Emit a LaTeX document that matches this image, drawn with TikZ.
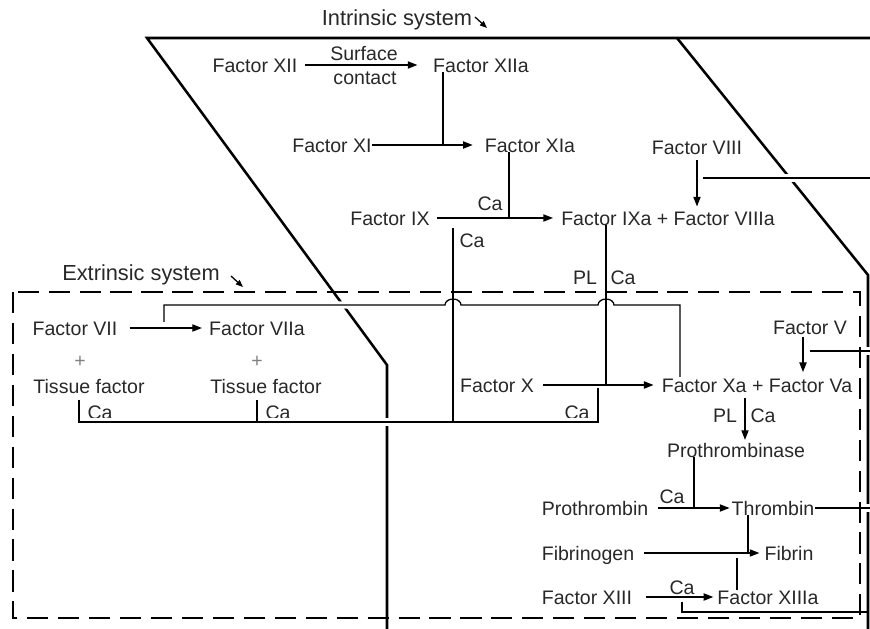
\documentclass[tikz,border=0pt]{standalone}
\usepackage{fontspec}
\setmainfont{Liberation Sans}
\usepackage{tikz}
\usetikzlibrary{arrows.meta}
\usetikzlibrary{calc}
\definecolor{txtgray}{RGB}{40,40,40}

\begin{document}
\begin{tikzpicture}[x=0.025cm, y=-0.025cm,
    lbl/.style={inner sep=0pt, text height=10pt, text depth=0pt, text=txtgray, font=\fontsize{13.9}{16}\selectfont},
    title/.style={lbl, font=\fontsize{15.5}{18}\selectfont},
    flow/.style={-{Triangle[length=2.4mm, width=1.8mm]}, line width=0.9pt},
    link/.style={line width=0.9pt},
    bridge/.style={line width=0.9pt, preaction={draw=white, line width=5pt}},
    plane/.style={line width=1.8pt}]
    \useasboundingbox (0,0) rectangle (870,629);

    % Draw planes
    \draw[plane] (870,38) -- (147,38) -- (387,365) -- (387,629);
    \draw[plane] (677,38) -- (868,275) -- (868,629);

    % Intrinsic system
    \node[title] (intr) at (397,18) {Intrinsic system};
    \node[lbl] (f12) at (255,65) {Factor XII};
    \node[lbl] (surf) at (364,53) {Surface};
    \node[lbl] (cont) at (365,77) {contact};
    \node[lbl] (f12a) at (481,65) {Factor XIIa};
    \node[lbl] (f11) at (332,145) {Factor XI};
    \node[lbl] (f11a) at (530,145) {Factor XIa};
    \node[lbl] (f8) at (697,147) {Factor VIII};
    \node[lbl] (f9) at (390,218) {Factor IX};
    \node[lbl] (f9a) at (668,218) {Factor IXa + Factor VIIIa};
    \node[lbl] (ca1) at (490,203) {Ca};
    \node[lbl] (ca2) at (472,240) {Ca};
    \node[lbl] (pl1) at (585,277) {PL};
    \node[lbl] (ca3) at (623,277) {Ca};

    % Extrinsic system
    \node[title] (extr) at (141,273) {Extrinsic system};
    \node[lbl] (f7) at (75,328) {Factor VII};
    \node[lbl] (f7a) at (257,328) {Factor VIIa};
    \node[lbl, text=gray] (plus1) at (80,360) {+};
    \node[lbl, text=gray] (plus2) at (257,360) {+};
    \node[lbl] (tf1) at (89,386) {Tissue factor};
    \node[lbl] (tf2) at (266,386) {Tissue factor};
    \node[lbl] (ca4) at (100,412) {Ca};
    \node[lbl] (ca5) at (278,412) {Ca};

    % Common pathway
    \node[lbl] (f10) at (497,385) {Factor X};
    \node[lbl] (ca6) at (577,412) {Ca};
    \node[lbl] (f5) at (810,327) {Factor V};
    \node[lbl] (f10a) at (757,385) {Factor Xa + Factor Va};
    \node[lbl] (pl2) at (725,415) {PL};
    \node[lbl] (ca7) at (763,415) {Ca};
    \node[lbl] (pthase) at (736,450) {Prothrombinase};
    \node[lbl] (pthr) at (595,508) {Prothrombin};
    \node[lbl] (ca8) at (672,496) {Ca};
    \node[lbl] (thr) at (773,508) {Thrombin};
    \node[lbl] (fbg) at (588,553) {Fibrinogen};
    \node[lbl] (fbn) at (789,553) {Fibrin};
    \node[lbl] (f13) at (587,597) {Factor XIII};
    \node[lbl] (ca9) at (682,587) {Ca};
    \node[lbl] (f13a) at (768,597) {Factor XIIIa};

    % Junctions
    \coordinate (intrtail) at (475,17);
    \coordinate (intrtip) at (487,28);
    \coordinate (extrtail) at (231,276);
    \coordinate (extrtip) at (243,287);
    \coordinate (j12) at (443,145);
    \coordinate (j11) at (509,218);
    \coordinate (c453t) at (453,228);
    \coordinate (c453b) at (453,422);
    \coordinate (c606) at (606,385);
    \coordinate (j8) at (703,178);
    \coordinate (e8) at (870,178);
    \coordinate (h7) at (164,322);
    \coordinate (hump1) at (445,305);
    \coordinate (hump2) at (598,305);
    \coordinate (hx) at (680,377);
    \coordinate (b79) at (79,400);
    \coordinate (b257) at (257,400);
    \coordinate (b598) at (598,388);
    \coordinate (a803) at (803,337);
    \coordinate (j5) at (810,351);
    \coordinate (e5) at (870,351);
    \coordinate (a745) at (745,398);
    \coordinate (j694) at (694,508);
    \coordinate (e508) at (870,508);
    \coordinate (j748) at (748,553);
    \coordinate (j737) at (737,558);
    \coordinate (b682) at (682,602);
    \coordinate (e612) at (868,612);

    % Draw links crossing the planes
    \draw[bridge] (j8) -- (e8);
    \draw[bridge] (j5) -- (e5);
    \draw[bridge] (thr.east) -- (e508);
    \draw[bridge] (h7) |- (hump1) arc[start angle=180, end angle=0, x radius=0.2cm, y radius=0.15cm]
        -- (hump2) arc[start angle=180, end angle=0, x radius=0.2cm, y radius=0.15cm] -| (hx);
    \draw[bridge] (b79) |- (c453b) -| (b598);

    % Draw extrinsic box
    \draw[line width=0.9pt, dash pattern=on 15pt off 7pt] (13,292) rectangle (860,618);

    % Draw arrows
    \draw[flow, -{Triangle[length=1.8mm, width=1.4mm]}] (intrtail) -- (intrtip);
    \draw[flow, -{Triangle[length=1.8mm, width=1.4mm]}] (extrtail) -- (extrtip);
    \draw[flow, shorten <=5pt, shorten >=11pt] (f12.east) -- (f12a.west);
    \draw[link] (f12a.south -| j12) -- (j12);
    \draw[flow, shorten >=8.5pt] (f11.east) -- (f11a.west);
    \draw[link] (f11a.south -| j11) -- (j11);
    \draw[flow, shorten <=5pt, shorten >=5.7pt] (f9.east) -- (f9a.west);
    \draw[flow, shorten <=4pt, shorten >=3pt] (f8.south) -- (f8.south |- f9a.north);
    \draw[link] (c453t) -- (c453b);
    \draw[link] (f9a.south -| c606) -- (c606);
    \draw[flow, shorten <=8.5pt, shorten >=5pt] (f7.east) -- (f7a.west);
    \draw[link] (b257) -- (b257 |- c453b);
    \draw[flow, shorten <=6.4pt, shorten >=5.7pt] (f10.east) -- (f10a.west);
    \draw[flow, shorten >=4pt] (a803) -- (a803 |- f10a.north);
    \draw[flow, shorten <=4pt, shorten >=2pt] (f10a.south -| a745) -- (a745 |- pthase.north);
    \draw[link] (pthase.south -| j694) -- (j694);
    \draw[flow, shorten <=6.4pt, shorten >=1.4pt] (pthr.east) -- (thr.west);
    \draw[link] (thr.south -| j748) -- (j748);
    \draw[flow, shorten <=7pt, shorten >=3.5pt] (fbg.east) -- (fbn.west);
    \draw[link] (j737) -- (j737 |- f13a.north);
    \draw[flow, shorten <=10pt, shorten >=2.8pt] (f13.east) -- (f13a.west);
    \draw[link] (b682) |- (e612);
\end{tikzpicture}
\end{document}
